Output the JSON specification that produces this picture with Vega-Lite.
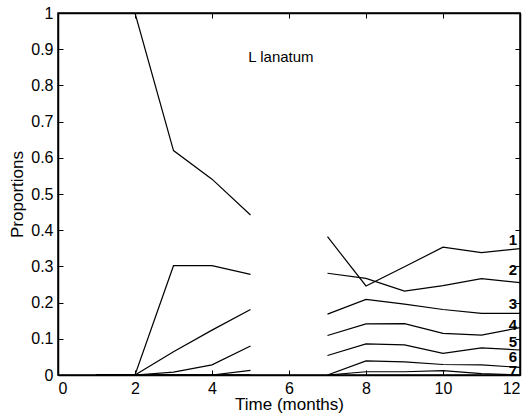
{
  "$schema": "https://vega.github.io/schema/vega-lite/v6.json",
  "width": 462,
  "height": 362,
  "autosize": "none",
  "padding": {"left": 58, "top": 13, "right": 11, "bottom": 39},
  "background": "white",
  "config": {
    "font": "Liberation Sans",
    "view": {"stroke": "black", "strokeWidth": 1.5},
    "axis": {
      "grid": false,
      "domainColor": "black",
      "domainWidth": 1.5,
      "tickColor": "black",
      "tickWidth": 1,
      "tickSize": -5,
      "labelColor": "black",
      "labelFont": "Liberation Sans",
      "labelFontSize": 16,
      "titleColor": "black",
      "titleFont": "Liberation Sans",
      "titleFontSize": 17,
      "titleFontWeight": "normal"
    }
  },
  "datasets": {
    "lines": [
      {"s": 1, "seg": "a", "month": 1, "p": 1},
      {"s": 1, "seg": "a", "month": 2, "p": 1},
      {"s": 1, "seg": "a", "month": 3, "p": 0.62},
      {"s": 1, "seg": "a", "month": 4, "p": 0.541},
      {"s": 1, "seg": "a", "month": 5, "p": 0.442},
      {"s": 1, "seg": "b", "month": 7, "p": 0.382},
      {"s": 1, "seg": "b", "month": 8, "p": 0.246},
      {"s": 1, "seg": "b", "month": 9, "p": 0.299},
      {"s": 1, "seg": "b", "month": 10, "p": 0.353},
      {"s": 1, "seg": "b", "month": 11, "p": 0.338},
      {"s": 1, "seg": "b", "month": 12, "p": 0.349},
      {"s": 2, "seg": "a", "month": 1, "p": 0},
      {"s": 2, "seg": "a", "month": 2, "p": 0},
      {"s": 2, "seg": "a", "month": 3, "p": 0.302},
      {"s": 2, "seg": "a", "month": 4, "p": 0.302},
      {"s": 2, "seg": "a", "month": 5, "p": 0.278},
      {"s": 2, "seg": "b", "month": 7, "p": 0.281},
      {"s": 2, "seg": "b", "month": 8, "p": 0.267},
      {"s": 2, "seg": "b", "month": 9, "p": 0.232},
      {"s": 2, "seg": "b", "month": 10, "p": 0.247},
      {"s": 2, "seg": "b", "month": 11, "p": 0.266},
      {"s": 2, "seg": "b", "month": 12, "p": 0.255},
      {"s": 3, "seg": "a", "month": 1, "p": 0},
      {"s": 3, "seg": "a", "month": 2, "p": 0},
      {"s": 3, "seg": "a", "month": 3, "p": 0.064},
      {"s": 3, "seg": "a", "month": 4, "p": 0.124},
      {"s": 3, "seg": "a", "month": 5, "p": 0.181},
      {"s": 3, "seg": "b", "month": 7, "p": 0.168},
      {"s": 3, "seg": "b", "month": 8, "p": 0.209},
      {"s": 3, "seg": "b", "month": 9, "p": 0.196},
      {"s": 3, "seg": "b", "month": 10, "p": 0.181},
      {"s": 3, "seg": "b", "month": 11, "p": 0.17},
      {"s": 3, "seg": "b", "month": 12, "p": 0.17},
      {"s": 4, "seg": "a", "month": 1, "p": 0},
      {"s": 4, "seg": "a", "month": 2, "p": 0},
      {"s": 4, "seg": "a", "month": 3, "p": 0.008},
      {"s": 4, "seg": "a", "month": 4, "p": 0.028},
      {"s": 4, "seg": "a", "month": 5, "p": 0.08},
      {"s": 4, "seg": "b", "month": 7, "p": 0.109},
      {"s": 4, "seg": "b", "month": 8, "p": 0.141},
      {"s": 4, "seg": "b", "month": 9, "p": 0.142},
      {"s": 4, "seg": "b", "month": 10, "p": 0.115},
      {"s": 4, "seg": "b", "month": 11, "p": 0.11},
      {"s": 4, "seg": "b", "month": 12, "p": 0.131},
      {"s": 5, "seg": "a", "month": 1, "p": 0},
      {"s": 5, "seg": "a", "month": 2, "p": 0},
      {"s": 5, "seg": "a", "month": 3, "p": 0},
      {"s": 5, "seg": "a", "month": 4, "p": 0},
      {"s": 5, "seg": "a", "month": 5, "p": 0.013},
      {"s": 5, "seg": "b", "month": 7, "p": 0.054},
      {"s": 5, "seg": "b", "month": 8, "p": 0.086},
      {"s": 5, "seg": "b", "month": 9, "p": 0.083},
      {"s": 5, "seg": "b", "month": 10, "p": 0.06},
      {"s": 5, "seg": "b", "month": 11, "p": 0.075},
      {"s": 5, "seg": "b", "month": 12, "p": 0.069},
      {"s": 6, "seg": "a", "month": 1, "p": 0},
      {"s": 6, "seg": "a", "month": 2, "p": 0},
      {"s": 6, "seg": "a", "month": 3, "p": 0},
      {"s": 6, "seg": "a", "month": 4, "p": 0},
      {"s": 6, "seg": "a", "month": 5, "p": 0},
      {"s": 6, "seg": "b", "month": 7, "p": 0},
      {"s": 6, "seg": "b", "month": 8, "p": 0.039},
      {"s": 6, "seg": "b", "month": 9, "p": 0.036},
      {"s": 6, "seg": "b", "month": 10, "p": 0.029},
      {"s": 6, "seg": "b", "month": 11, "p": 0.028},
      {"s": 6, "seg": "b", "month": 12, "p": 0.021},
      {"s": 7, "seg": "a", "month": 1, "p": 0},
      {"s": 7, "seg": "a", "month": 2, "p": 0},
      {"s": 7, "seg": "a", "month": 3, "p": 0},
      {"s": 7, "seg": "a", "month": 4, "p": 0},
      {"s": 7, "seg": "a", "month": 5, "p": 0},
      {"s": 7, "seg": "b", "month": 7, "p": 0},
      {"s": 7, "seg": "b", "month": 8, "p": 0.009},
      {"s": 7, "seg": "b", "month": 9, "p": 0.009},
      {"s": 7, "seg": "b", "month": 10, "p": 0.012},
      {"s": 7, "seg": "b", "month": 11, "p": 0.004},
      {"s": 7, "seg": "b", "month": 12, "p": 0}
    ],
    "labels": [
      {"label": "1", "month": 12, "p": 0.373},
      {"label": "2", "month": 12, "p": 0.289},
      {"label": "3", "month": 12, "p": 0.196},
      {"label": "4", "month": 12, "p": 0.139},
      {"label": "5", "month": 12, "p": 0.09},
      {"label": "6", "month": 12, "p": 0.05},
      {"label": "7", "month": 12, "p": 0.011}
    ],
    "annot": [
      {"text": "L lanatum", "month": 5.79, "p": 0.878}
    ]
  },
  "layer": [
    {
      "data": {"name": "lines"},
      "mark": {"type": "line", "color": "black", "strokeWidth": 1.2, "clip": true},
      "encoding": {
        "x": {
          "field": "month", "type": "quantitative",
          "scale": {"domain": [0, 12], "nice": false, "zero": false},
          "axis": {"orient": "bottom", "values": [0, 2, 4, 6, 8, 10, 12], "format": "d", "title": "Time (months)", "labelPadding": 10, "titlePadding": 0}
        },
        "y": {
          "field": "p", "type": "quantitative",
          "scale": {"domain": [0, 1], "nice": false},
          "axis": {"orient": "left", "values": [0, 0.1, 0.2, 0.3, 0.4, 0.5, 0.6, 0.7, 0.8, 0.9, 1], "format": ".1~f", "title": "Proportions", "labelPadding": 10, "titlePadding": 4}
        },
        "detail": [{"field": "s"}, {"field": "seg"}]
      }
    },
    {
      "data": {"name": "labels"},
      "mark": {"type": "text", "align": "right", "baseline": "middle", "dx": -3, "fontSize": 15, "fontWeight": "bold", "color": "black", "font": "Liberation Sans"},
      "encoding": {
        "x": {
          "field": "month", "type": "quantitative",
          "axis": {"orient": "top", "values": [0, 2, 4, 6, 8, 10, 12], "labels": false, "title": null}
        },
        "y": {
          "field": "p", "type": "quantitative",
          "axis": {"orient": "right", "values": [0, 0.1, 0.2, 0.3, 0.4, 0.5, 0.6, 0.7, 0.8, 0.9, 1], "labels": false, "title": null}
        },
        "text": {"field": "label"}
      }
    },
    {
      "data": {"name": "annot"},
      "mark": {"type": "text", "align": "center", "baseline": "middle", "fontSize": 15, "color": "black", "font": "Liberation Sans"},
      "encoding": {
        "x": {"field": "month", "type": "quantitative", "axis": null},
        "y": {"field": "p", "type": "quantitative", "axis": null},
        "text": {"field": "text"}
      }
    }
  ],
  "resolve": {"axis": {"x": "independent", "y": "independent"}}
}
